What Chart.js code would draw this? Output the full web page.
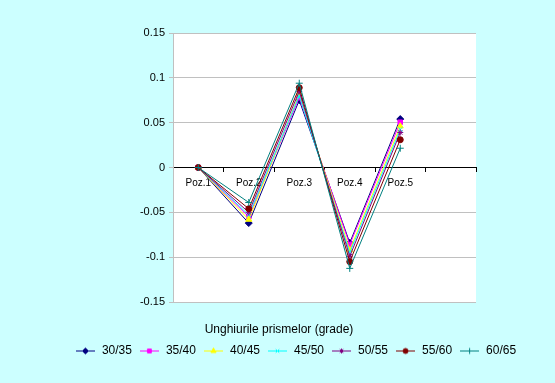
<!DOCTYPE html>
<html><head><meta charset="utf-8">
<script src="https://cdn.jsdelivr.net/npm/chart.js@4/dist/chart.umd.min.js"></script>
<style>html,body{margin:0;padding:0;background:#CCFFFF;overflow:hidden}</style>
</head><body>
<canvas id="c" width="555" height="383"></canvas>
<script>
// ---- data ----
const categories = ['Poz.1', 'Poz.2', 'Poz.3', 'Poz.4', 'Poz.5', ''];
const seriesNames = ['30/35', '35/40', '40/45', '45/50', '50/55', '55/60', '60/65'];
const s30_35 = [0, -0.062, 0.075, -0.084, 0.054];
const s35_40 = [0, -0.055, 0.078, -0.086, 0.0505];
const s40_45 = [0, -0.058, 0.082, -0.092, 0.046];
const s45_50 = [0, -0.053, 0.080, -0.095, 0.0425];
const s50_55 = [0, -0.050, 0.085, -0.099, 0.039];
const s55_60 = [0, -0.046, 0.089, -0.105, 0.031];
const s60_65 = [0, -0.039, 0.094, -0.1125, 0.0215];
const yTickLabels = ['-0.15', '-0.1', '-0.05', '0', '0.05', '0.1', '0.15'];
const yMin = -0.15, yMax = 0.15, yStep = 0.05;
const xAxisTitle = 'Unghiurile prismelor (grade)';

// ---- styles ----
const seriesData = [s30_35, s35_40, s40_45, s45_50, s50_55, s55_60, s60_65];
const colors = ['#000080', '#FF00FF', '#FFFF00', '#00FFFF', '#800080', '#800000', '#008080'];
const styles = ['rectRot', 'rect', 'triangle', 'crossRot', 'star', 'circle', 'cross'];
const radii = [3.5, 3.2, 3.5, 3, 3, 3, 3.5];
const FONT = '"Liberation Sans", Arial, sans-serif';

Chart.defaults.font.family = FONT;
Chart.defaults.color = '#000';

// legend icons: short line with the marker in its middle
const icons = colors.map((c, i) => {
  const cv = document.createElement('canvas');
  cv.width = 19; cv.height = 9;
  const g = cv.getContext('2d');
  g.strokeStyle = c; g.lineWidth = 1;
  g.beginPath(); g.moveTo(0, 4.5); g.lineTo(19, 4.5); g.stroke();
  g.fillStyle = c; g.strokeStyle = c;
  Chart.helpers.drawPoint(g, {pointStyle: styles[i], radius: radii[i] - 0.5, rotation: 0, borderWidth: 1}, 9.5, 4.5);
  return cv;
});

const bgPlugin = {
  id: 'bg',
  beforeDraw(chart) {
    const {ctx, chartArea: a} = chart;
    ctx.save();
    ctx.fillStyle = '#CCFFFF';
    ctx.fillRect(0, 0, chart.width, chart.height);
    ctx.fillStyle = '#FFFFFF';
    ctx.fillRect(a.left, a.top, a.right - a.left, a.bottom - a.top);
    ctx.restore();
  },
  afterDraw(chart) {
    const ctx = chart.ctx;
    ctx.save();
    ctx.font = '12px ' + FONT;
    ctx.fillStyle = '#000';
    ctx.textAlign = 'center';
    ctx.textBaseline = 'alphabetic';
    ctx.fillText(xAxisTitle, 279, 332.5);
    ctx.restore();
  }
};

new Chart(document.getElementById('c'), {
  type: 'line',
  data: {
    labels: categories,
    datasets: seriesNames.map((n, i) => ({
      label: n,
      data: seriesData[i],
      borderColor: colors[i],
      backgroundColor: colors[i],
      borderWidth: 1,
      pointStyle: styles[i],
      pointRadius: radii[i],
      pointHoverRadius: radii[i],
      pointBorderWidth: 1,
      tension: 0,
      fill: false,
      order: 7 - i
    }))
  },
  options: {
    responsive: false,
    animation: false,
    devicePixelRatio: 1,
    events: [],
    layout: {padding: {left: 36, right: 0, top: 33, bottom: 16}},
    scales: {
      x: {
        type: 'category',
        offset: true,
        position: {y: 0},
        grid: {display: true, drawOnChartArea: false, drawTicks: true, tickLength: 4, color: '#000', offset: true},
        border: {display: true, color: '#000', width: 1},
        ticks: {padding: 6, font: {size: 10}, color: '#000', maxRotation: 0, autoSkip: false}
      },
      xb: {
        type: 'category',
        position: 'bottom',
        display: true,
        grid: {display: false},
        border: {display: false},
        ticks: {display: false},
        afterFit: s => { s.height = 36; }
      },
      y: {
        type: 'linear',
        position: 'left',
        min: yMin, max: yMax,
        ticks: {
          stepSize: yStep, padding: 4, font: {size: 11}, color: '#000',
          callback: v => yTickLabels[Math.round((v - yMin) / yStep)]
        },
        grid: {color: '#C0C0C0', tickLength: 4, drawTicks: true},
        border: {display: true, color: '#C0C0C0', width: 1},
        afterFit: s => { s.width = 137; }
      },
      yR: {
        type: 'linear',
        position: 'right',
        display: true,
        grid: {display: false},
        border: {display: false},
        ticks: {display: false},
        afterFit: s => { s.width = 79; }
      }
    },
    plugins: {
      title: {display: false},
      tooltip: {enabled: false},
      legend: {
        display: true,
        position: 'bottom',
        align: 'center',
        labels: {
          usePointStyle: true,
          pointStyleWidth: 21,
          padding: 7,
          font: {size: 12},
          color: '#000',
          sort: (a, b) => a.datasetIndex - b.datasetIndex,
          generateLabels: chart => Chart.defaults.plugins.legend.labels.generateLabels(chart)
            .map(l => Object.assign(l, {pointStyle: icons[l.datasetIndex], rotation: 0}))
        }
      }
    }
  },
  plugins: [bgPlugin]
});
</script>
</body></html>
